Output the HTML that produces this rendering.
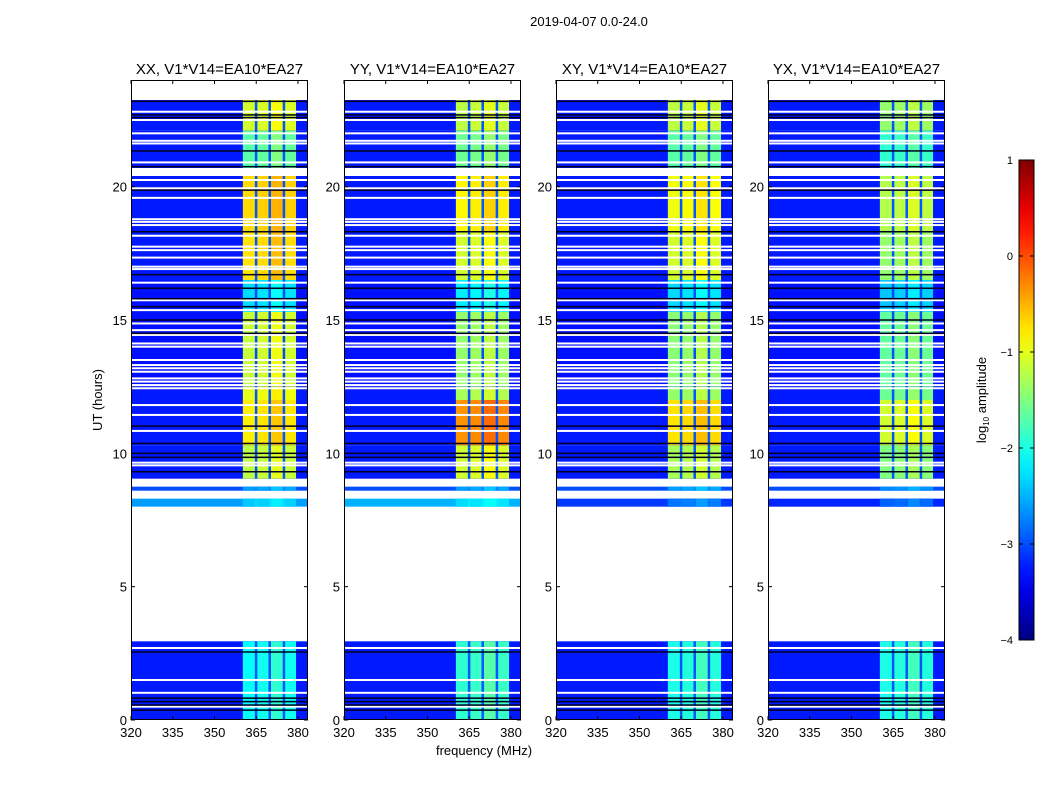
<!DOCTYPE html>
<html><head><meta charset="utf-8">
<style>
body{margin:0;background:#fff;}
#wrap{position:relative;width:1050px;height:800px;overflow:hidden;font-family:"Liberation Sans",sans-serif;}
</style></head>
<body>
<div id="wrap">
<svg id="svg" width="1050" height="800" xmlns="http://www.w3.org/2000/svg"></svg>
</div>
<script>
// ---- data ----
const panelTitles = ["XX, V1*V14=EA10*EA27","YY, V1*V14=EA10*EA27","XY, V1*V14=EA10*EA27","YX, V1*V14=EA10*EA27"];
const segStart = [0, 2.95, 8.0, 8.3, 8.6, 8.75, 9.05, 10.3, 12.0, 12.5, 15.3, 16.5, 18.3, 20.4, 20.7, 22.1, 23.25];
const segEnd   = [2.95, 8.0, 8.3, 8.6, 8.75, 9.05, 10.3, 12.0, 12.5, 15.3, 16.5, 18.3, 20.4, 20.7, 22.1, 23.25, 24];
const segMissing=[0,1,0,1,0,1,0,0,0,0,0,0,0,1,0,0,1];
const baseXX = [-3.25,0,-2.6,0,-3.0,0,-3.25,-3.25,-3.25,-3.3,-3.3,-3.25,-3.25,0,-3.25,-3.25,0];
const baseYY = [-3.25,0,-2.5,0,-3.0,0,-3.25,-3.25,-3.25,-3.3,-3.3,-3.25,-3.25,0,-3.25,-3.25,0];
const baseXY = [-3.25,0,-3.1,0,-3.0,0,-3.25,-3.25,-3.25,-3.3,-3.3,-3.25,-3.25,0,-3.25,-3.25,0];
const baseYX = [-3.25,0,-3.2,0,-3.0,0,-3.25,-3.25,-3.25,-3.3,-3.3,-3.25,-3.25,0,-3.25,-3.25,0];
const bandXX = [-2.1,0,-2.4,0,-2.6,0,-1.2,-0.8,-1.0,-1.15,-2.3,-0.75,-0.7,0,-1.7,-1.1,0];
const bandYY = [-1.9,0,-2.3,0,-2.6,0,-1.1,-0.35,-1.3,-1.4,-2.2,-1.1,-0.85,0,-1.6,-1.2,0];
const bandXY = [-2.0,0,-2.8,0,-2.6,0,-1.3,-0.75,-1.4,-1.45,-2.3,-1.1,-0.95,0,-1.7,-1.2,0];
const bandYX = [-2.0,0,-2.9,0,-2.7,0,-1.5,-1.1,-1.6,-1.65,-2.4,-1.4,-1.25,0,-1.9,-1.4,0];
const bandLo = [360.2, 365.4, 370.3, 375.4];
const bandHi = [364.5, 369.4, 374.5, 379.3];
const bandBoost = [0, 0.05, 0.2, 0.05];
const whiteRows = [22.81,22.5,22.0,21.72,21.62,20.91,20.25,19.94,19.58,18.78,18.68,18.56,18.16,17.75,17.62,17.34,17.0,16.91,16.4,15.74,15.37,14.87,14.62,14.44,14.12,14.0,13.5,13.31,13.19,13.06,12.81,12.69,12.56,12.44,11.81,11.44,10.84,9.65,9.55,2.7,1.5,1.02,0.5];
const blackRows = [23.2,22.69,22.59,21.34,20.75,19.87,18.31,16.7,16.19,15.8,15.5,15.0,14.5,11.02,10.37,10.0,9.85,9.31,2.55,0.82,0.69,0.56,0.37];
const xTicks = [320,335,350,365,380];
const yTicks = [0,5,10,15,20];
const cbTicks = [1,0,-1,-2,-3,-4];

// ---- layout ----
const panelLeft=[131,344,556,768], PW=177, PT=80, PH=640;
const fMin=320, fMax=383.6, tMin=0, tMax=24, vMin=-4, vMax=1;
const xs=(p,f)=>panelLeft[p]+(f-fMin)/(fMax-fMin)*PW;
const ys=t=>PT+PH-(t-tMin)/(tMax-tMin)*PH;
function jet(v){
  let t=Math.max(0,Math.min(1,(v-vMin)/(vMax-vMin)));
  const c=x=>Math.round(255*Math.max(0,Math.min(1,x)));
  const r=c(Math.min(4*t-1.5,-4*t+4.5)), g=c(Math.min(4*t-0.5,-4*t+3.5)), b=c(Math.min(4*t+0.5,-4*t+2.5));
  return `rgb(${r},${g},${b})`;
}
const NS="http://www.w3.org/2000/svg";
const svg=document.getElementById('svg');
function mk(tag,attrs,parent){const e=document.createElementNS(NS,tag);for(const k in attrs)e.setAttribute(k,attrs[k]);(parent||svg).appendChild(e);return e;}
function txt(s,x,y,size,anchor,parent){const e=mk('text',{x:x,y:y,'font-size':size,'text-anchor':anchor||'middle','font-family':'Liberation Sans, sans-serif',fill:'#000'},parent);e.textContent=s;return e;}

const bases=[baseXX,baseYY,baseXY,baseYX], bands=[bandXX,bandYY,bandXY,bandYX];
for(let p=0;p<4;p++){
  const g=mk('g',{});
  
  
  for(let i=0;i<segStart.length;i++){
    if(segMissing[i])continue;
    const y0=ys(segEnd[i]), y1=ys(segStart[i]);
    const r=mk('rect',{x:panelLeft[p],y:y0,width:PW,height:y1-y0,fill:jet(bases[p][i])},g);
    
    
    const gx0=xs(p,bandLo[0]), gx1=xs(p,bandHi[3]);
    const gr=mk('rect',{x:gx0,y:y0,width:gx1-gx0,height:y1-y0,fill:jet(bases[p][i]+0.3)},g);
    
    
    for(let b=0;b<bandLo.length;b++){
      const x0=xs(p,bandLo[b]), x1=xs(p,bandHi[b]);
      const br=mk('rect',{x:x0,y:y0,width:x1-x0,height:y1-y0,fill:jet(bands[p][i]+bandBoost[b])},g);
      
      
    }
  }
  for(const t of whiteRows){
    const l=mk('rect',{x:panelLeft[p],y:ys(t)-1,width:PW,height:2,fill:'#fff'},g);
    
    
  }
  for(const t of blackRows){
    const l=mk('rect',{x:panelLeft[p],y:ys(t)-0.75,width:PW,height:1.5,fill:'#000020'},g);
    
    
  }
  const fr=mk('rect',{x:panelLeft[p]+0.5,y:PT+0.5,width:PW-1,height:PH-1,fill:'none',stroke:'#000','stroke-width':1},g);
  
  
  for(const f of xTicks){
    const x=xs(p,f);
    mk('line',{x1:x,x2:x,y1:PT,y2:PT+4,stroke:'#000'},g);
    mk('line',{x1:x,x2:x,y1:PT+PH,y2:PT+PH-4,stroke:'#000'},g);
    const l=txt(String(f),x,737,13,'middle',g);
    
    
  }
  for(const t of yTicks){
    const y=ys(t);
    mk('line',{x1:panelLeft[p],x2:panelLeft[p]+4,y1:y,y2:y,stroke:'#000'},g);
    mk('line',{x1:panelLeft[p]+PW,x2:panelLeft[p]+PW-4,y1:y,y2:y,stroke:'#000'},g);
    const l=txt(String(t),panelLeft[p]-4,y+5,13,'end',g);
    
    
  }
  const tt=txt(panelTitles[p],panelLeft[p]+PW/2,74,15,'middle',g);
  
  
}
// colorbar
const cbX=1019,cbW=15,cbT=160,cbH=480;
const defs=mk('defs',{});
const lg=mk('linearGradient',{id:'jetg',x1:0,y1:1,x2:0,y2:0},defs);
for(let i=0;i<=20;i++){const v=vMin+(vMax-vMin)*i/20;mk('stop',{offset:(i/20),'stop-color':jet(v)},lg);}
const cb=mk('rect',{x:cbX,y:cbT,width:cbW,height:cbH,fill:'url(#jetg)',stroke:'#000','stroke-width':1});


for(const v of cbTicks){
  const y=cbT+cbH-(v-vMin)/(vMax-vMin)*cbH;
  mk('line',{x1:cbX,x2:cbX+4,y1:y,y2:y,stroke:'#000'});
  mk('line',{x1:cbX+cbW,x2:cbX+cbW-4,y1:y,y2:y,stroke:'#000'});
  const l=txt(String(v).replace('-','\u2212'),1013,y+4,11,'end');
  
  
}
</script>
<svg width="1050" height="800" style="position:absolute;left:0;top:0;pointer-events:none" xmlns="http://www.w3.org/2000/svg">
<text x="589" y="26" font-size="13" text-anchor="middle" font-family="Liberation Sans, sans-serif">2019-04-07 0.0-24.0</text>
<text x="484" y="755" font-size="13" text-anchor="middle" font-family="Liberation Sans, sans-serif">frequency (MHz)</text>
<text x="0" y="0" font-size="13" text-anchor="middle" font-family="Liberation Sans, sans-serif" transform="translate(102,400) rotate(-90)">UT (hours)</text>
<text x="0" y="0" font-size="13" text-anchor="middle" font-family="Liberation Sans, sans-serif" transform="translate(986,400) rotate(-90)">log<tspan font-size="8" dy="3">10</tspan><tspan dy="-3"> amplitude</tspan></text>
</svg>
</body></html>
